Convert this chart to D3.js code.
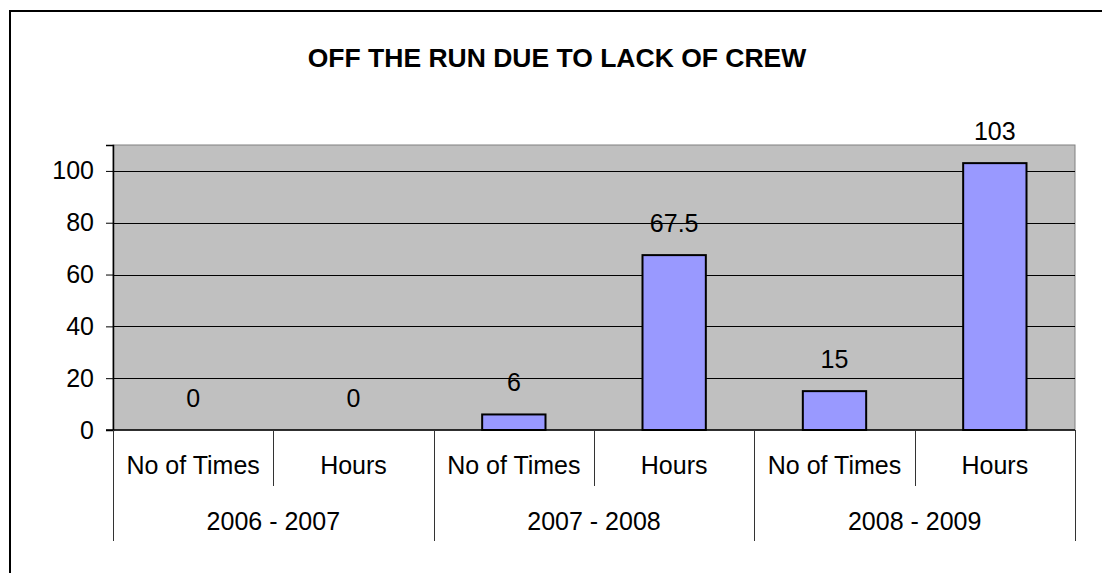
<!DOCTYPE html>
<html>
<head>
<meta charset="utf-8">
<script src="https://cdn.jsdelivr.net/npm/d3@7"></script>
<style>
  html, body { margin: 0; padding: 0; background: #fff; }
  svg { display: block; font-family: "Liberation Sans", Arial, sans-serif; }
</style>
</head>
<body>
<svg id="chart" width="1102" height="573"></svg>
<script>
// Chart data
const title = "OFF THE RUN DUE TO LACK OF CREW";
const periods = ["2006 - 2007", "2007 - 2008", "2008 - 2009"];
const measures = ["No of Times", "Hours"];
const values = [0, 0, 6, 67.5, 15, 103];
const yTicks = [0, 20, 40, 60, 80, 100];

// Flattened category list: one entry per (period, measure)
const cats = [];
periods.forEach((p, pi) => measures.forEach((m, mi) => {
  cats.push({ key: p + "|" + m, period: p, measure: m, value: values[pi * measures.length + mi] });
}));

const svg = d3.select("#chart");
const W = 1102, H = 573;
const plot = { left: 113, right: 1075, top: 145, bottom: 430 };
const labelSize = 25;

// Outer chart frame
svg.append("rect")
  .attr("x", 10).attr("y", 11)
  .attr("width", W + 20).attr("height", H + 20)
  .attr("fill", "#fff").attr("stroke", "#000").attr("stroke-width", 2);

// Title
svg.append("text")
  .attr("x", 557).attr("y", 67)
  .attr("text-anchor", "middle")
  .attr("font-size", 26.5).attr("font-weight", "bold")
  .attr("fill", "#000")
  .text(title);

const x = d3.scaleBand()
  .domain(cats.map(d => d.key))
  .range([plot.left, plot.right])
  .paddingInner(0).paddingOuter(0);

const y = d3.scaleLinear().domain([0, 110]).range([plot.bottom, plot.top]);

// Plot background
svg.append("rect")
  .attr("x", plot.left).attr("y", plot.top)
  .attr("width", plot.right - plot.left).attr("height", plot.bottom - plot.top)
  .attr("fill", "#C0C0C0").attr("stroke", "#808080").attr("stroke-width", 1);

// Gridlines
svg.append("g")
  .selectAll("line")
  .data(yTicks.filter(t => t > 0))
  .join("line")
  .attr("x1", plot.left).attr("x2", plot.right)
  .attr("y1", d => Math.round(y(d)) + 0.5).attr("y2", d => Math.round(y(d)) + 0.5)
  .attr("stroke", "#000").attr("stroke-width", 1);

// Y axis
const yAxis = d3.axisLeft(y).tickValues(yTicks).tickSize(7).tickPadding(12).tickFormat(d3.format("d"));
const gy = svg.append("g").attr("transform", `translate(${plot.left},0)`).call(yAxis);
gy.select(".domain").attr("stroke", "#000").attr("stroke-width", 1.5);
gy.selectAll(".tick line").attr("stroke", "#000");
gy.selectAll(".tick text")
  .attr("font-size", labelSize).attr("fill", "#000")
  .attr("font-family", "'Liberation Sans', Arial, sans-serif");

// Bars
svg.append("g")
  .selectAll("rect")
  .data(cats.filter(d => d.value > 0))
  .join("rect")
  .attr("x", d => x(d.key) + x.bandwidth() * 0.3025)
  .attr("width", x.bandwidth() * 0.395)
  .attr("y", d => y(d.value))
  .attr("height", d => y(0) - y(d.value))
  .attr("fill", "#9999FF").attr("stroke", "#000").attr("stroke-width", 2);

// Value labels
svg.append("g")
  .selectAll("text")
  .data(cats)
  .join("text")
  .attr("x", d => x(d.key) + x.bandwidth() / 2)
  .attr("y", d => y(d.value) - 32)
  .attr("dy", "0.35em")
  .attr("text-anchor", "middle")
  .attr("font-size", labelSize).attr("fill", "#000")
  .text(d => d3.format("~g")(d.value));

// X axis baseline (extends left to the zero tick)
svg.append("line")
  .attr("x1", plot.left - 7).attr("x2", plot.right)
  .attr("y1", plot.bottom).attr("y2", plot.bottom)
  .attr("stroke", "#000").attr("stroke-width", 1.5);

// Multi-level category axis: separators
const bw = x.bandwidth();
const axisG = svg.append("g");
cats.forEach((d, i) => {
  const xl = x(d.key);
  const isGroupStart = i % measures.length === 0;
  axisG.append("line")
    .attr("x1", Math.round(xl) + 0.5).attr("x2", Math.round(xl) + 0.5)
    .attr("y1", plot.bottom).attr("y2", isGroupStart ? 541 : 486)
    .attr("stroke", "#333").attr("stroke-width", 1);
});
axisG.append("line")
  .attr("x1", plot.right + 0.5).attr("x2", plot.right + 0.5)
  .attr("y1", plot.bottom).attr("y2", 541)
  .attr("stroke", "#333").attr("stroke-width", 1);

// Measure labels
axisG.selectAll("text.measure")
  .data(cats)
  .join("text")
  .attr("class", "measure")
  .attr("x", d => x(d.key) + bw / 2)
  .attr("y", 465).attr("dy", "0.35em")
  .attr("text-anchor", "middle")
  .attr("font-size", labelSize).attr("fill", "#000")
  .text(d => d.measure);

// Period labels
axisG.selectAll("text.period")
  .data(periods)
  .join("text")
  .attr("class", "period")
  .attr("x", (p, i) => x(cats[i * measures.length].key) + bw * measures.length / 2)
  .attr("y", 521).attr("dy", "0.35em")
  .attr("text-anchor", "middle")
  .attr("font-size", labelSize).attr("fill", "#000")
  .text(p => p);
</script>
</body>
</html>
